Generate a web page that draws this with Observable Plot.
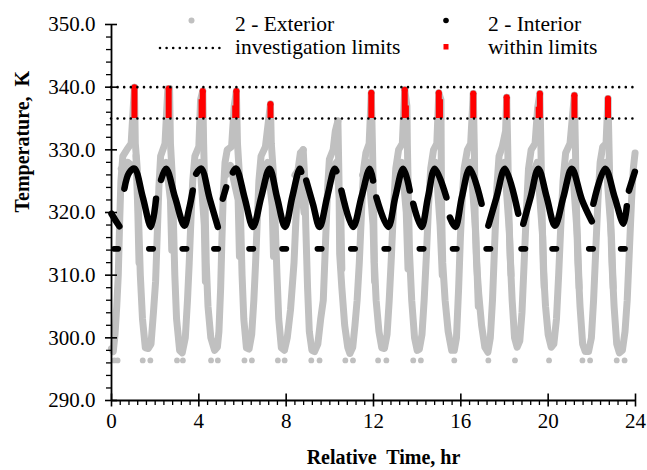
<!DOCTYPE html>
<html><head><meta charset="utf-8">
<script src="https://cdn.jsdelivr.net/npm/d3@7"></script>
<script src="https://cdn.jsdelivr.net/npm/@observablehq/plot@0.6"></script>
<style>
body{margin:0;background:#fff;}
#wrap{position:relative;width:647px;height:470px;background:#fff;}
#legend{position:absolute;left:0;top:0;}
</style></head><body><div id="wrap"></div>
<script>
// ---------- data ----------
const xDomain = [0, 24];
const yDomain = [290, 350];
const xTicks = [0, 4, 8, 12, 16, 20, 24];
const yTicks = [290, 300, 310, 320, 330, 340, 350];
const limits = [335, 340];
const legendLabels = ["2 - Exterior", "investigation limits", "2 - Interior", "within limits"];
const axisTitles = ["Relative\u00a0 Time, hr", "Temperature,\u00a0 K"];

// 2 - Exterior trace, cycle by cycle: [time hr, temperature K]
const exteriorTrace = [
  [[0.00,298.3],[0.08,297.8],[0.16,300.5],[0.24,305],[0.31,310],[0.37,318],[0.43,325],[0.52,329],[0.70,330],[0.90,331],[1.05,340.0]],
  [[1.05,340.0],[1.09,331],[1.18,327],[1.25,318],[1.32,310],[1.42,303],[1.55,298.4],[1.68,298.3],[1.81,299],[1.92,304],[2.02,309],[2.10,317],[2.17,324],[2.25,329],[2.45,331],[2.58,339.8],[2.66,339.8]],
  [[2.66,339.8],[2.70,331],[2.78,326],[2.84,318],[2.90,310],[2.98,303],[3.12,298],[3.24,297.6],[3.38,300],[3.48,306],[3.56,312],[3.64,319],[3.72,325],[3.82,329],[4.00,330.5],[4.08,338.0],[4.18,339.4]],
  [[4.18,339.4],[4.22,331],[4.28,322],[4.34,312],[4.42,305],[4.55,300],[4.72,298],[4.85,298.5],[4.92,301],[5.00,308],[5.06,316],[5.12,323],[5.20,328],[5.30,330],[5.50,330.5],[5.62,337.0],[5.72,339.4]],
  [[5.72,339.4],[5.77,331],[5.86,326],[5.92,318],[5.98,310],[6.06,303],[6.18,298.4],[6.30,298.2],[6.42,300.5],[6.52,306],[6.60,312],[6.68,319],[6.75,325],[6.85,329],[7.05,330.5],[7.28,337.3]],
  [[7.28,337.3],[7.32,331],[7.42,326],[7.50,318],[7.58,310],[7.66,303],[7.78,298.4],[7.92,298],[8.05,300],[8.20,304.5],[8.36,312],[8.46,320],[8.55,327],[8.65,329.5],[8.78,330.0]],
  [[8.78,330.0],[8.84,326],[8.90,317.6],[8.98,308],[9.06,301],[9.18,298],[9.30,297.8],[9.45,299],[9.58,303],[9.70,306],[9.80,315],[9.90,324],[9.98,328.5],[10.15,330],[10.25,333],[10.37,334.6]],
  [[10.37,334.6],[10.42,325],[10.45,313.4],[10.55,308],[10.68,302],[10.82,298.5],[10.92,297.5],[11.05,298.5],[11.15,302],[11.25,306],[11.35,312],[11.45,320],[11.55,327],[11.65,329.5],[11.80,331],[11.90,339.1]],
  [[11.90,339.1],[11.95,331],[12.00,322],[12.04,312],[12.12,306],[12.25,301],[12.38,298.4],[12.50,298.3],[12.62,300.5],[12.72,306],[12.82,313],[12.92,321],[13.02,327],[13.15,330],[13.32,331],[13.43,339.6]],
  [[13.43,339.6],[13.53,337.0],[13.55,331],[13.60,322],[13.65,313.5],[13.75,306],[13.88,300],[14.00,298],[14.10,298.2],[14.22,300.5],[14.32,306],[14.42,313],[14.52,321],[14.62,327],[14.75,330],[14.90,331],[14.99,339.1]],
  [[14.99,339.1],[15.09,338.0],[15.10,331],[15.12,320],[15.17,312],[15.28,306],[15.42,301],[15.58,298],[15.70,298],[15.80,300],[15.90,308],[15.98,316],[16.06,322],[16.15,327],[16.30,330],[16.45,331],[16.57,339.0]],
  [[16.57,339.0],[16.62,330],[16.66,318],[16.72,312],[16.82,307],[16.95,302],[17.10,298.5],[17.24,297.7],[17.35,300],[17.45,306],[17.55,315],[17.65,324],[17.75,329],[17.90,330.5],[18.05,333],[18.10,338.4]],
  [[18.10,338.4],[18.15,330],[18.20,320],[18.26,313],[18.35,306],[18.46,300],[18.58,298.5],[18.70,299.5],[18.80,304],[18.90,312],[19.00,320],[19.10,327],[19.22,330],[19.40,331],[19.52,336.8],[19.62,339.0]],
  [[19.62,339.0],[19.67,330],[19.72,320],[19.78,311],[19.88,305],[20.00,300.5],[20.14,298.5],[20.26,299],[20.38,303],[20.48,310],[20.58,318],[20.68,325],[20.80,329.5],[21.00,331],[21.20,338.7]],
  [[21.20,338.7],[21.25,330],[21.30,320],[21.36,312],[21.46,305],[21.58,299],[21.70,297.8],[21.85,297.8],[21.98,300],[22.08,306],[22.18,314],[22.28,322],[22.38,328],[22.50,330.5],[22.65,331],[22.74,338.2]],
  [[22.74,338.2],[22.79,330],[22.85,320],[22.92,312],[23.02,305],[23.14,299],[23.26,297.6],[23.40,298],[23.52,301],[23.62,306],[23.72,314],[23.82,322],[23.90,327],[23.98,329.5]]
];
// secondary exterior track: the column that leaves each spike and its upper shoulder
const exteriorShoulder = [
  [[0.45,327],[0.60,326.5],[0.75,328],[0.95,327.5]],
  [[1.12,329],[1.20,321],[1.26,312]],
  [[2.30,327],[2.50,328],[2.70,322],[2.76,314]],
  [[3.85,327],[4.05,328],[4.25,318],[4.30,309]],
  [[5.25,326],[5.45,327.5],[5.80,322],[5.86,313]],
  [[6.90,326.5],[7.15,328],[7.36,321],[7.42,313]],
  [[8.40,326],[8.60,327],[8.82,320]],
  [[10.00,326],[10.30,328],[10.50,320],[10.55,311]],
  [[11.50,326],[11.75,328],[11.98,318],[12.05,309]],
  [[13.05,326],[13.30,328],[13.50,320],[13.58,311]],
  [[14.65,326],[14.85,328],[15.05,318],[15.15,310]],
  [[16.20,326],[16.45,328],[16.68,317],[16.80,305]],
  [[17.80,326],[18.00,328],[18.22,317],[18.30,310]],
  [[19.28,326],[19.50,328],[19.75,316],[19.82,308]],
  [[20.85,326],[21.10,328],[21.34,316],[21.42,308]],
  [[22.45,326],[22.65,328],[22.90,316],[22.98,308]]
];
// isolated exterior minimum points
const exteriorMinTimes = [0.13,0.28,1.43,1.78,3.00,3.27,4.56,4.87,6.09,6.43,7.62,7.93,9.15,9.53,10.71,11.06,12.21,12.59,13.82,14.17,15.70,17.26,18.48,20.04,21.57,21.92,23.14,23.50];
const exteriorMinValue = 296.4;

// within limits (exterior points between 335 and 340)
const withinTimes = [1.05, 2.62, 4.18, 5.72, 7.28, 11.90, 13.43, 14.99, 16.57, 18.10, 19.62, 21.20, 22.74];
const withinMax   = [340.0, 339.8, 339.4, 339.4, 337.3, 339.1, 339.6, 339.1, 339.0, 338.4, 339.0, 338.7, 338.2];
const withinStepTimes = [4.08, 5.62, 13.53, 15.09, 19.52];
const withinStepMax   = [338.0, 337.0, 337.0, 338.0, 336.8];

// 2 - Interior trace, segments separated where the reference shows gaps
const interiorTrace = [
  [[0.00,319.8],[0.21,318.6],[0.36,317.8]],
  [[0.59,323.8],[0.80,326.3],[1.05,327.0],[1.43,322.5],[1.81,317.7],[2.04,322.2]],
  [[2.27,325.2],[2.50,327.0],[2.92,322.3],[3.34,317.9],[3.55,320.5],[3.72,323.5]],
  [[3.88,326.2],[4.11,327.0],[4.49,322.3],[4.87,317.7]],
  [[5.10,322.2],[5.25,324.0]],
  [[5.56,326.4],[5.71,327.0],[6.10,322.3],[6.48,317.7],[6.86,322.5],[7.24,327.0],[7.59,322.3],[7.95,317.7],[8.28,322.5],[8.62,327.0],[8.69,326.5]],
  [[8.92,325.1],[9.23,321.3],[9.53,317.7],[9.88,322.5],[10.22,327.0],[10.30,326.6]],
  [[10.53,323.5],[11.06,317.7],[11.45,322.5],[11.83,327.0],[11.98,325.1]],
  [[12.13,322.4],[12.67,317.7],[13.00,322.5],[13.36,327.0],[13.66,323.5]],
  [[13.82,321.4],[14.20,317.7],[14.50,322.5],[14.81,327.0],[15.34,322.4]],
  [[15.50,319.2],[15.75,317.7],[16.05,322.5],[16.41,327.0],[16.95,321.4]],
  [[17.26,317.9],[17.64,322.5],[18.02,327.0],[18.63,319.8]],
  [[18.86,318.2],[19.20,322.5],[19.55,327.0],[19.93,322.5],[20.31,317.9],[20.70,322.5],[21.08,327.0],[21.55,322.0],[22.00,318.6]],
  [[22.07,321.4],[22.61,327.0],[23.05,322.4],[23.45,318.2],[23.60,321.0]],
  [[23.70,323.5],[23.97,326.5]]
];
// isolated interior minimum markers
const interiorMinTimes = [0.21,1.81,3.34,4.79,6.40,7.91,9.53,11.06,12.59,14.20,15.72,17.26,18.86,20.28,21.96,23.42];
const interiorMinValue = 314.2;

// ---------- build tables ----------
const toRows = trace => trace.flatMap((seg, i) => seg.map(([t, T]) => ({t, T, seg: i})));
const extRows = toRows(exteriorTrace);
const shoulderRows = toRows(exteriorShoulder);
const intRows = toRows(interiorTrace);
const within = withinTimes.map((t, i) => ({t, max: withinMax[i]}));
const steps = withinStepTimes.map((t, i) => ({t, max: withinStepMax[i]}));
const yMinor = d3.range(yDomain[0], yDomain[1] + 1, 2).filter(v => v % 10 !== 0);
const xMinor = d3.range(1, 60).filter(i => i % 10 !== 0).map(i => i * 0.4);

const GRAY = "#c0c0c0";
const FONT = "'Liberation Serif', 'Times New Roman', serif";
const capsule = {
  draw(ctx) {
    const hw = 2.2, r = 2.8;
    ctx.moveTo(-hw, -r);
    ctx.lineTo(hw, -r);
    ctx.arc(hw, 0, r, -Math.PI / 2, Math.PI / 2);
    ctx.lineTo(-hw, r);
    ctx.arc(-hw, 0, r, Math.PI / 2, 3 * Math.PI / 2);
    ctx.closePath();
  }
};
const grayLine = {x: "t", y: "T", z: "seg", stroke: GRAY, strokeWidth: 7, strokeLinejoin: "round", strokeLinecap: "round"};

const chart = Plot.plot({
  width: 647,
  height: 470,
  marginLeft: 111,
  marginRight: 12,
  marginTop: 24,
  marginBottom: 70,
  style: {fontFamily: FONT, fontSize: "21px", background: "#fff", color: "#000", overflow: "visible"},
  x: {domain: xDomain},
  y: {domain: yDomain},
  marks: [
    Plot.line(extRows, grayLine),
    Plot.line(shoulderRows, grayLine),
    Plot.dot(exteriorMinTimes, {x: d => d, y: () => exteriorMinValue, r: 2.9, fill: GRAY}),
    Plot.ruleX(within, {x: "t", y1: () => limits[0], y2: "max", stroke: "#ff0000", strokeWidth: 6}),
    Plot.ruleX(steps, {x: "t", y1: () => limits[0], y2: "max", stroke: "#ff0000", strokeWidth: 4}),
    Plot.dot(within, {x: "t", y: "max", r: 3, fill: "#ff0000"}),
    Plot.ruleY(limits, {stroke: "#000", strokeWidth: 2.6, strokeDasharray: "0 6.6", strokeLinecap: "round"}),
    Plot.line(intRows, {x: "t", y: "T", z: "seg", stroke: "#000", strokeWidth: 6.5, strokeLinejoin: "round", strokeLinecap: "round", curve: "catmull-rom"}),
    Plot.dot(interiorMinTimes, {x: d => d, y: () => interiorMinValue, symbol: capsule, fill: "#000"}),
    // axes
    Plot.ruleX([xDomain[0]], {stroke: "#000", strokeWidth: 1.8}),
    Plot.ruleY([yDomain[0]], {stroke: "#000", strokeWidth: 1.8}),
    Plot.axisY({ticks: yTicks, tickSize: 0, tickPadding: 16, tickFormat: d => d.toFixed(1), label: null}),
    Plot.axisY({ticks: yTicks, tickSize: 12, dx: 6, fill: "none", strokeWidth: 1.6, label: null}),
    Plot.axisY({ticks: yMinor, tickSize: 5, fill: "none", strokeWidth: 1.3, label: null}),
    Plot.axisX({ticks: xTicks, tickSize: 0, tickPadding: 13, label: null}),
    Plot.axisX({ticks: xTicks, tickSize: 13, dy: -6.5, fill: "none", strokeWidth: 1.6, label: null}),
    Plot.axisX({ticks: xMinor, tickSize: 5, fill: "none", strokeWidth: 1.3, label: null}),
    Plot.text([axisTitles[0]], {text: d => d, frameAnchor: "bottom", dy: 63, dx: 10, fontWeight: "bold", fontSize: 20}),
    Plot.text([axisTitles[1]], {text: d => d, frameAnchor: "left", dx: -89, rotate: -90, fontWeight: "bold", fontSize: 20})
  ]
});
document.getElementById("wrap").appendChild(chart);

// ---------- legend (overlaid at the top of the plot area) ----------
const ns = "http://www.w3.org/2000/svg";
const leg = document.createElementNS(ns, "svg");
leg.setAttribute("id", "legend");
leg.setAttribute("width", 647);
leg.setAttribute("height", 62);
function el(tag, attrs, txt) {
  const e = document.createElementNS(ns, tag);
  for (const k in attrs) e.setAttribute(k, attrs[k]);
  if (txt != null) e.textContent = txt;
  leg.appendChild(e);
  return e;
}
el("circle", {cx: 191.5, cy: 20.5, r: 3, fill: GRAY});
el("line", {x1: 160, x2: 220, y1: 48, y2: 48, stroke: "#000", "stroke-width": 2.6, "stroke-dasharray": "0 6.6", "stroke-linecap": "round"});
el("circle", {cx: 446, cy: 20.5, r: 2.8, fill: "#000"});
el("rect", {x: 443.5, y: 44, width: 5, height: 5.5, fill: "#ff0000"});
const tstyle = {"font-size": 21.5, fill: "#000"};
el("text", {x: 235, y: 31, ...tstyle}, legendLabels[0]);
el("text", {x: 235, y: 53.5, ...tstyle}, legendLabels[1]);
el("text", {x: 488, y: 31, ...tstyle}, legendLabels[2]);
el("text", {x: 488, y: 53.5, ...tstyle}, legendLabels[3]);
document.getElementById("wrap").appendChild(leg);

// serif face on every text element
document.querySelectorAll("#wrap text").forEach(t => {
  t.style.fontFamily = FONT;
  t.style.whiteSpace = "pre";
});
</script></body></html>
